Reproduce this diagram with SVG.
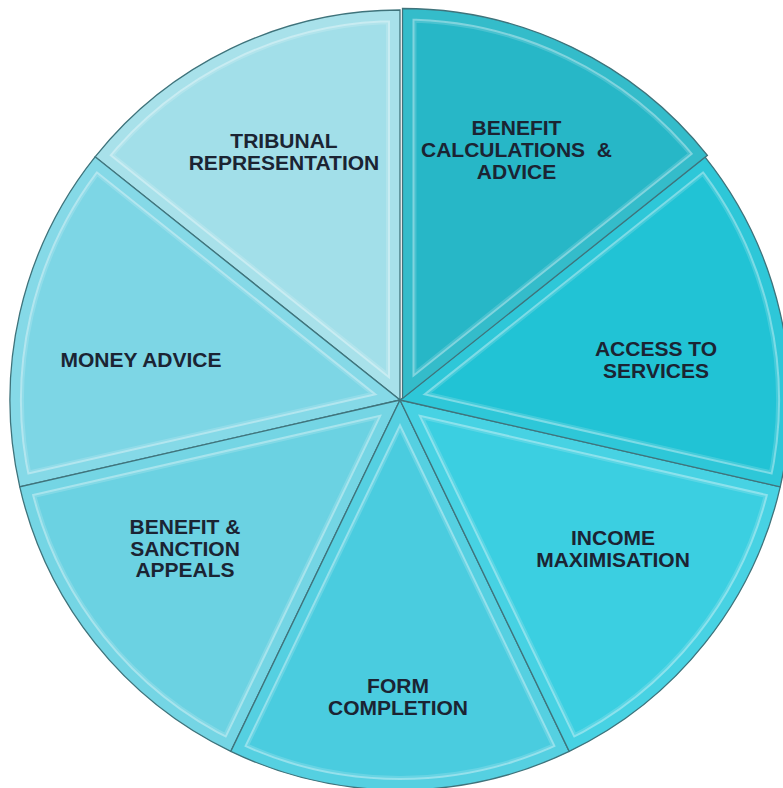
<svg xmlns="http://www.w3.org/2000/svg" width="783" height="788" viewBox="0 0 783 788">
<style>
.lbl{font-family:"Liberation Sans",Arial,sans-serif;font-weight:bold;font-size:21px;fill:#1b2433;text-anchor:middle;white-space:pre}
.edge{fill:none;stroke:#3f737b;stroke-width:1.3;stroke-linejoin:miter}
.band{fill:none;stroke:#ffffff;stroke-opacity:0.16;stroke-width:28}
.ridge{fill:none;stroke:#ffffff;stroke-opacity:0.30;stroke-width:24}
.band2{fill:none;stroke:#000000;stroke-opacity:0.04;stroke-width:20}
</style>
<defs>
<path id="s0" d="M400,400 L400,10 A390,390 0 0 1 704.91,156.84 Z"/>
<path id="s1" d="M400,400 L704.91,156.84 A390,390 0 0 1 780.22,486.78 Z"/>
<path id="s2" d="M400,400 L780.22,486.78 A390,390 0 0 1 569.21,751.38 Z"/>
<path id="s3" d="M400,400 L569.21,751.38 A390,390 0 0 1 230.79,751.38 Z"/>
<path id="s4" d="M400,400 L230.79,751.38 A390,390 0 0 1 19.78,486.78 Z"/>
<path id="s5" d="M400,400 L19.78,486.78 A390,390 0 0 1 95.09,156.84 Z"/>
<path id="s6" d="M400,400 L95.09,156.84 A390,390 0 0 1 400,10 Z"/>
<clipPath id="c0"><use href="#s0"/></clipPath>
<clipPath id="c1"><use href="#s1"/></clipPath>
<clipPath id="c2"><use href="#s2"/></clipPath>
<clipPath id="c3"><use href="#s3"/></clipPath>
<clipPath id="c4"><use href="#s4"/></clipPath>
<clipPath id="c5"><use href="#s5"/></clipPath>
<clipPath id="c6"><use href="#s6"/></clipPath>
</defs>
<rect width="783" height="788" fill="#ffffff"/>
<g id="tribunal">
<use href="#s6" fill="#a2dfe9"/>
<g clip-path="url(#c6)"><use href="#s6" class="band"/><use href="#s6" class="ridge" stroke="#ffffff"/><use href="#s6" fill="none" stroke="#a2dfe9" stroke-width="20" stroke-opacity="0.85"/></g>
<use href="#s6" class="edge"/>
<text class="lbl" x="284" y="148">TRIBUNAL</text>
<text class="lbl" x="284" y="170">REPRESENTATION</text>
</g>
<g id="money-advice">
<use href="#s5" fill="#7dd6e5"/>
<g clip-path="url(#c5)"><use href="#s5" class="band"/><use href="#s5" class="ridge"/><use href="#s5" fill="none" stroke="#7dd6e5" stroke-width="20" stroke-opacity="0.85"/></g>
<use href="#s5" class="edge"/>
<text class="lbl" x="141" y="367">MONEY ADVICE</text>
</g>
<g id="benefit-sanction-appeals">
<use href="#s4" fill="#6bd2e2"/>
<g clip-path="url(#c4)"><use href="#s4" class="band"/><use href="#s4" class="ridge"/><use href="#s4" fill="none" stroke="#6bd2e2" stroke-width="20" stroke-opacity="0.85"/></g>
<use href="#s4" class="edge"/>
<text class="lbl" x="185" y="534">BENEFIT &amp;</text>
<text class="lbl" x="185" y="556">SANCTION</text>
<text class="lbl" x="185" y="577">APPEALS</text>
</g>
<g id="form-completion">
<use href="#s3" fill="#4accdf"/>
<g clip-path="url(#c3)"><use href="#s3" class="band"/><use href="#s3" class="ridge"/><use href="#s3" fill="none" stroke="#4accdf" stroke-width="20" stroke-opacity="0.85"/></g>
<use href="#s3" class="edge"/>
<text class="lbl" x="398" y="693">FORM</text>
<text class="lbl" x="398" y="715">COMPLETION</text>
</g>
<g id="income-maximisation">
<use href="#s2" fill="#3bcfe1"/>
<g clip-path="url(#c2)"><use href="#s2" class="band"/><use href="#s2" class="ridge"/><use href="#s2" fill="none" stroke="#3bcfe1" stroke-width="20" stroke-opacity="0.85"/></g>
<use href="#s2" class="edge"/>
<text class="lbl" x="613" y="545">INCOME</text>
<text class="lbl" x="613" y="567">MAXIMISATION</text>
</g>
<g id="access-to-services">
<use href="#s1" fill="#21c3d5"/>
<g clip-path="url(#c1)"><use href="#s1" class="band"/><use href="#s1" class="ridge"/><use href="#s1" fill="none" stroke="#21c3d5" stroke-width="20" stroke-opacity="0.85"/></g>
<use href="#s1" class="edge"/>
<text class="lbl" x="656" y="356">ACCESS TO</text>
<text class="lbl" x="656" y="378">SERVICES</text>
</g>
<g id="benefit-calculations" transform="translate(2.5,-1.5)">
<use href="#s0" fill="#27b7c7"/>
<g clip-path="url(#c0)"><use href="#s0" class="band"/><use href="#s0" class="ridge"/><use href="#s0" fill="none" stroke="#27b7c7" stroke-width="20" stroke-opacity="0.85"/></g>
<use href="#s0" class="edge"/>
<text class="lbl" x="514" y="136">BENEFIT</text>
<text class="lbl" x="514" y="158">CALCULATIONS  &amp;</text>
<text class="lbl" x="514" y="180">ADVICE</text>
</g>
</svg>
